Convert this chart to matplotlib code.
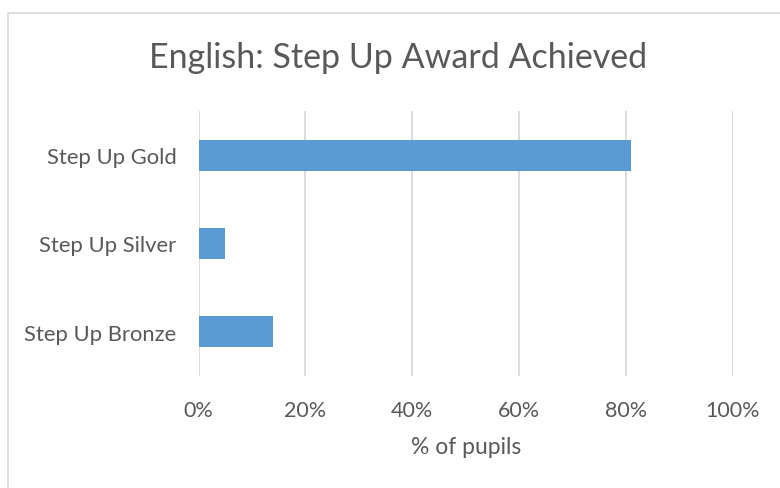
import matplotlib.pyplot as plt
from matplotlib.ticker import PercentFormatter
from matplotlib.patches import Rectangle

# Data
categories = ["Step Up Gold", "Step Up Silver", "Step Up Bronze"]
values = [81, 5, 14]
x_ticks = [0, 20, 40, 60, 80, 100]

TEXT = "#595959"
BAR = "#5B9BD5"
GRID = "#D9D9D9"

plt.rcParams['font.family'] = ['Lato', 'DejaVu Sans']

fig = plt.figure(figsize=(7.8, 4.89), dpi=100)
ax = fig.add_axes([198.5 / 780, 1 - 377 / 489, (733 - 198.5) / 780, 265 / 489])

# top category first
pos = list(range(len(categories)))[::-1]
ax.barh(pos, values, height=0.35, color=BAR, zorder=3)

ax.set_xlim(0, 100)
ax.set_ylim(-0.5, 2.5)
ax.set_xticks(x_ticks)
ax.xaxis.set_major_formatter(PercentFormatter(decimals=0))
ax.set_yticks(pos)
ax.set_yticklabels(categories)
ax.grid(axis="x", color=GRID, linewidth=1.3, zorder=0)
ax.tick_params(axis="x", length=0, labelsize=15.5, colors=TEXT, pad=17)
ax.tick_params(axis="y", length=0, labelsize=15.8, colors=TEXT, pad=16)
for s in ax.spines.values():
    s.set_visible(False)

ax.set_xlabel("% of pupils", fontsize=16.5, color=TEXT, labelpad=12)
fig.text(398 / 780, 1 - 58 / 489, "English: Step Up Award Achieved",
         ha="center", va="center", fontsize=24.5, color=TEXT)

# chart area border (only left and top visible)
fig.patches.append(Rectangle((7.5 / 780, -0.1), 1.2, 1 - 13.5 / 489 + 0.1,
                             transform=fig.transFigure, fill=False,
                             edgecolor=GRID, linewidth=1.2))

fig.savefig("out.png", dpi=100)
